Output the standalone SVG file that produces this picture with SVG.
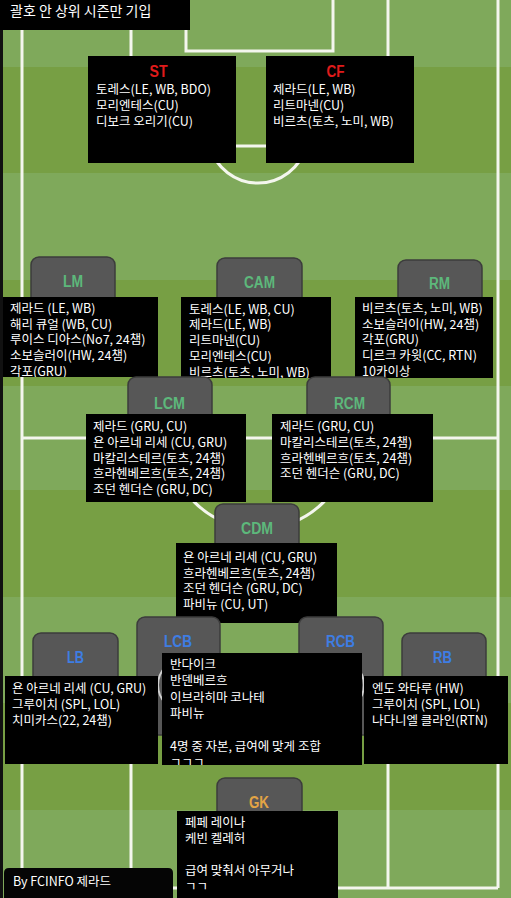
<svg xmlns="http://www.w3.org/2000/svg" width="511" height="898" viewBox="0 0 511 898">
<style>
.lt{fill:#7fa95b}
.dk{fill:#779f44}
.ln{stroke:#f4f6ee;stroke-width:3;fill:none}
.nd{fill:#575757;stroke:#3c3c3c;stroke-width:1.5}
.lbl{font-family:"Liberation Sans",Arial,sans-serif;font-weight:bold;font-size:16px;text-anchor:middle}
.g{fill:#5db87b}
.b{fill:#3e7de3}
.o{fill:#e3a445}
.r{fill:#e01b1b}
.box{fill:#000}
.t{font-family:"Noto Sans CJK KR","Noto Sans",sans-serif;font-size:12.5px;fill:#fff}
.ring{stroke:#cfcfcf;stroke-width:2;fill:none}
</style>
<g id="pitch">
<rect class="lt" x="0" y="0" width="511" height="67"/>
<rect class="dk" x="0" y="67" width="511" height="106"/>
<rect class="lt" x="0" y="173" width="511" height="107"/>
<rect class="dk" x="0" y="280" width="511" height="106"/>
<rect class="lt" x="0" y="386" width="511" height="104"/>
<rect class="dk" x="0" y="490" width="511" height="107"/>
<rect class="lt" x="0" y="597" width="511" height="106"/>
<rect class="dk" x="0" y="703" width="511" height="107"/>
<rect class="lt" x="0" y="810" width="511" height="88"/>
<rect x="0" y="0" width="3" height="898" fill="#111"/>
<line class="ln" x1="22" y1="0" x2="22" y2="888"/>
<line class="ln" x1="498" y1="0" x2="498" y2="888"/>
<line class="ln" x1="22" y1="888" x2="498" y2="888"/>
<path class="ln" d="M131,0 V146 H388 V0"/>
<path class="ln" d="M186,0 V51 H333 V0"/>
<path class="ln" d="M209.7,146 A50,50 0 0 0 306.3,146"/>
<line class="ln" x1="22" y1="438" x2="498" y2="438" stroke-width="4"/>
<circle class="ln" cx="259" cy="438" r="91"/>
<line class="ln" x1="131" y1="745" x2="131" y2="888"/>
<line class="ln" x1="388" y1="745" x2="388" y2="888"/>
</g>
<g id="connectors"/>
<g id="node-ST">
<svg x="88" y="56" width="148" height="107">
<rect class="box" width="148" height="107"/>
<text class="lbl r" x="70.5" y="21" textLength="18" lengthAdjust="spacingAndGlyphs">ST</text>
<text class="t"><tspan x="8" y="38">토레스(LE, WB, BDO)</tspan><tspan x="8" y="54">모리엔테스(CU)</tspan><tspan x="8" y="70">디보크 오리기(CU)</tspan></text>
</svg>
</g>
<g id="node-CF">
<svg x="266" y="56" width="148" height="107">
<rect class="box" width="148" height="107"/>
<text class="lbl r" x="69.5" y="21" textLength="18" lengthAdjust="spacingAndGlyphs">CF</text>
<text class="t"><tspan x="7" y="38">제라드(LE, WB)</tspan><tspan x="7" y="54">리트마넨(CU)</tspan><tspan x="7" y="70">비르츠(토츠, 노미, WB)</tspan></text>
</svg>
</g>
<g id="node-LM">
<rect class="nd" x="31" y="257" width="84" height="70" rx="8"/>
<text class="lbl g" x="73" y="287" textLength="20" lengthAdjust="spacingAndGlyphs">LM</text>
<svg x="3" y="297" width="155" height="80">
<rect class="box" width="155" height="80"/>
<text class="t"><tspan x="7" y="16">제라드 (LE, WB)</tspan><tspan x="7" y="31.7">해리 큐얼 (WB, CU)</tspan><tspan x="7" y="47.4">루이스 디아스(No7, 24챔)</tspan><tspan x="7" y="63.1">소보슬러이(HW, 24챔)</tspan><tspan x="7" y="78.8">각포(GRU)</tspan></text>
</svg>
</g>
<g id="node-CAM">
<rect class="nd" x="217" y="258" width="85" height="70" rx="8"/>
<text class="lbl g" x="259.5" y="288" textLength="31" lengthAdjust="spacingAndGlyphs">CAM</text>
<svg x="181" y="297" width="150" height="81">
<rect class="box" width="150" height="81"/>
<text class="t"><tspan x="8" y="16.5">토레스(LE, WB, CU)</tspan><tspan x="8" y="32.2">제라드(LE, WB)</tspan><tspan x="8" y="47.9">리트마넨(CU)</tspan><tspan x="8" y="63.6">모리엔테스(CU)</tspan><tspan x="8" y="79.5">비르츠(토츠, 노미, WB)</tspan></text>
</svg>
</g>
<g id="node-RM">
<rect class="nd" x="398" y="260" width="84" height="70" rx="8"/>
<text class="lbl g" x="439.5" y="289" textLength="21" lengthAdjust="spacingAndGlyphs">RM</text>
<svg x="355" y="297" width="138" height="81">
<rect class="box" width="138" height="81"/>
<text class="t"><tspan x="7" y="16">비르츠(토츠, 노미, WB)</tspan><tspan x="7" y="31.7">소보슬러이(HW, 24챔)</tspan><tspan x="7" y="47.4">각포(GRU)</tspan><tspan x="7" y="63.1">디르크 카윗(CC, RTN)</tspan><tspan x="7" y="78.8">10카이상</tspan></text>
</svg>
</g>
<g id="node-LCM">
<rect class="nd" x="128" y="377" width="84" height="70" rx="8"/>
<text class="lbl g" x="169.5" y="409" textLength="31" lengthAdjust="spacingAndGlyphs">LCM</text>
<svg x="86" y="414" width="160" height="88">
<rect class="box" width="160" height="88"/>
<text class="t"><tspan x="7" y="17">제라드 (GRU, CU)</tspan><tspan x="7" y="32.8">욘 아르네 리세 (CU, GRU)</tspan><tspan x="7" y="48.5">마칼리스테르(토츠, 24챔)</tspan><tspan x="7" y="64.2">흐라헨베르흐(토츠, 24챔)</tspan><tspan x="7" y="80">조던 헨더슨 (GRU, DC)</tspan></text>
</svg>
</g>
<g id="node-RCM">
<rect class="nd" x="307" y="377" width="83" height="70" rx="8"/>
<text class="lbl g" x="349.5" y="409" textLength="31" lengthAdjust="spacingAndGlyphs">RCM</text>
<svg x="272" y="414" width="161" height="88">
<rect class="box" width="161" height="88"/>
<text class="t"><tspan x="8" y="17">제라드 (GRU, CU)</tspan><tspan x="8" y="32.8">마칼리스테르(토츠, 24챔)</tspan><tspan x="8" y="48.5">흐라헨베르흐(토츠, 24챔)</tspan><tspan x="8" y="64.2">조던 헨더슨 (GRU, DC)</tspan></text>
</svg>
</g>
<g id="node-CDM">
<rect class="nd" x="215" y="504" width="84" height="70" rx="8"/>
<text class="lbl g" x="257" y="534" textLength="32" lengthAdjust="spacingAndGlyphs">CDM</text>
<svg x="176" y="543" width="161" height="80">
<rect class="box" width="161" height="80"/>
<text class="t"><tspan x="7" y="19">욘 아르네 리세 (CU, GRU)</tspan><tspan x="7" y="34.7">흐라헨베르흐(토츠, 24챔)</tspan><tspan x="7" y="50.4">조던 헨더슨 (GRU, DC)</tspan><tspan x="7" y="66.1">파비뉴 (CU, UT)</tspan></text>
</svg>
</g>
<g id="node-LCB">
<rect class="nd" x="137" y="617" width="83" height="118" rx="8"/>
<text class="lbl b" x="178" y="647" textLength="28" lengthAdjust="spacingAndGlyphs">LCB</text>
</g>
<g id="node-RCB">
<rect class="nd" x="299" y="617" width="84" height="118" rx="8"/>
<text class="lbl b" x="340.5" y="647" textLength="29" lengthAdjust="spacingAndGlyphs">RCB</text>
</g>
<circle class="ring" cx="184" cy="685" r="26"/>
<circle class="ring" cx="338" cy="685" r="26"/>
<g id="note-CB">
<svg x="162" y="653" width="200" height="112">
<rect class="box" width="200" height="112"/>
<text class="t"><tspan x="8" y="16">반다이크</tspan><tspan x="8" y="32.3">반덴베르흐</tspan><tspan x="8" y="48.6">이브라히마 코나테</tspan><tspan x="8" y="64.9">파비뉴</tspan><tspan x="8" y="97.5">4명 중 자본, 급여에 맞게 조합</tspan><tspan x="8" y="113.8">ㄱㄱㄱ</tspan></text>
</svg>
</g>
<g id="node-LB">
<rect class="nd" x="33" y="633" width="85" height="80" rx="8"/>
<text class="lbl b" x="75.5" y="663" textLength="17" lengthAdjust="spacingAndGlyphs">LB</text>
<svg x="5" y="676" width="153" height="88">
<rect class="box" width="153" height="88"/>
<text class="t"><tspan x="7" y="17">욘 아르네 리세 (CU, GRU)</tspan><tspan x="7" y="33">그루이치 (SPL, LOL)</tspan><tspan x="7" y="49">치미카스(22, 24챔)</tspan></text>
</svg>
</g>
<g id="node-RB">
<rect class="nd" x="402" y="633" width="84" height="80" rx="8"/>
<text class="lbl b" x="442.5" y="663" textLength="19" lengthAdjust="spacingAndGlyphs">RB</text>
<svg x="364" y="676" width="144" height="88">
<rect class="box" width="144" height="88"/>
<text class="t"><tspan x="8" y="17">엔도 와타루 (HW)</tspan><tspan x="8" y="33">그루이치 (SPL, LOL)</tspan><tspan x="8" y="49">나다니엘 클라인(RTN)</tspan></text>
</svg>
</g>
<g id="node-GK">
<rect class="nd" x="217" y="778" width="85" height="70" rx="8"/>
<text class="lbl o" x="259" y="808" textLength="20" lengthAdjust="spacingAndGlyphs">GK</text>
<svg x="177" y="811" width="161" height="87">
<rect class="box" width="161" height="87"/>
<text class="t"><tspan x="8" y="16">페페 레이나</tspan><tspan x="8" y="32">케빈 켈레허</tspan><tspan x="8" y="64">급여 맞춰서 아무거나</tspan><tspan x="8" y="80">ㄱㄱ</tspan></text>
</svg>
</g>
<g id="title">
<rect class="box" x="0" y="0" width="190" height="30"/>
<text class="t" x="10" y="16" style="font-size:14px">괄호 안 상위 시즌만 기입</text>
</g>
<g id="credit">
<path d="M4,898 V873 Q4,868 9,868 H168 Q173,868 173,873 V898 Z" fill="#050505"/>
<text class="t" x="13" y="886">By FCINFO 제라드</text>
</g>
</svg>
